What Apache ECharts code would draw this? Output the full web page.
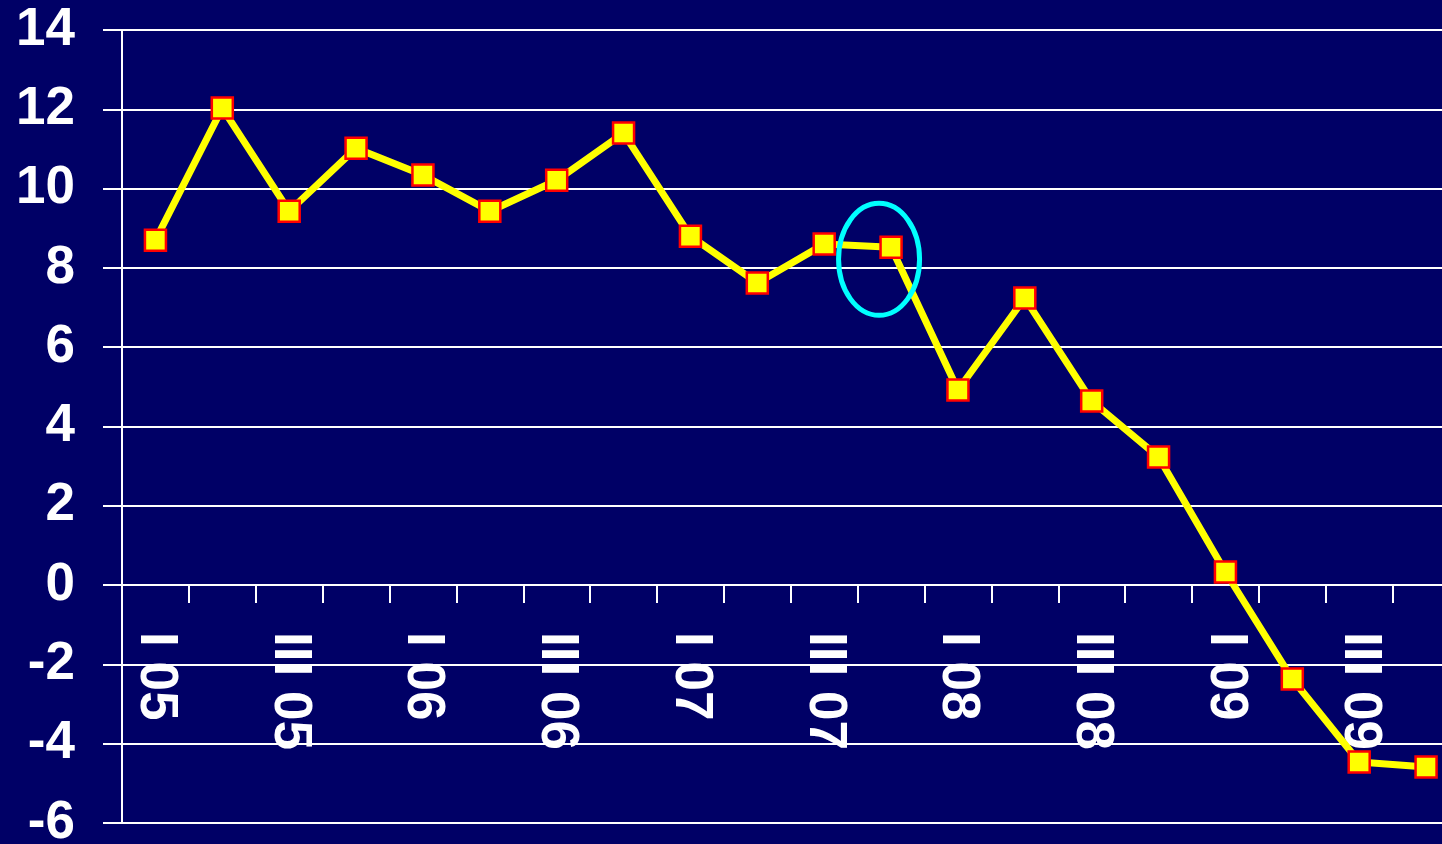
<!DOCTYPE html>
<html>
<head>
<meta charset="utf-8">
<script src="https://cdn.jsdelivr.net/npm/echarts@6/dist/echarts.min.js"></script>
<style>
html,body{margin:0;padding:0;background:#000066;overflow:hidden;}
#chart{width:1442px;height:844px;}
</style>
</head>
<body>
<div id="chart"></div>
<script>
const categories = ['I 05','II 05','III 05','IV 05','I 06','II 06','III 06','IV 06','I 07','II 07','III 07','IV 07','I 08','II 08','III 08','IV 08','I 09','II 09','III 09','IV 09'];
const values = [8.70, 12.03, 9.43, 11.02, 10.34, 9.43, 10.21, 11.40, 8.80, 7.62, 8.60, 8.52, 4.92, 7.24, 4.64, 3.23, 0.33, -2.37, -4.46, -4.59];
const highlightIndex = 11;

const chart = echarts.init(document.getElementById('chart'));
const font = '"Liberation Sans", Arial, sans-serif';
chart.setOption({
  backgroundColor: '#000066',
  animation: false,
  grid: {left: 122, top: 30, bottom: 21, right: -17.5, containLabel: false, outerBoundsMode: 'none'},
  xAxis: {
    type: 'category',
    data: categories,
    boundaryGap: true,
    position: 'bottom',
    offset: 0,
    axisLine: {show: true, onZero: false, lineStyle: {color: '#ffffff', width: 2}},
    axisTick: {show: true, interval: 0, length: 18, lineStyle: {color: '#ffffff', width: 2}},
    axisLabel: {
      interval: 1, rotate: -90, margin: 47,
      color: '#ffffff', fontSize: 53, fontWeight: 'bold', fontFamily: font
    },
    splitLine: {show: false}
  },
  yAxis: {
    type: 'value',
    min: -6, max: 14, interval: 2,
    axisLine: {show: true, lineStyle: {color: '#ffffff', width: 2}},
    axisTick: {show: true, length: 19, lineStyle: {color: '#ffffff', width: 2}},
    axisLabel: {margin: 47, color: '#ffffff', fontSize: 53, fontWeight: 'bold', fontFamily: font},
    splitLine: {show: true, lineStyle: {color: '#ffffff', width: 2}}
  },
  series: [{
    type: 'line',
    data: values,
    lineStyle: {color: '#ffff00', width: 7},
    symbol: 'rect',
    symbolSize: 21,
    itemStyle: {color: '#ffff00', borderColor: '#ff0000', borderWidth: 2.5},
    z: 5
  }]
});

// place the category axis on the zero line of the value axis
const zeroPx = chart.convertToPixel({yAxisIndex: 0}, 0);
const minPx = chart.convertToPixel({yAxisIndex: 0}, -6);
const p = chart.convertToPixel({gridIndex: 0}, [highlightIndex, values[highlightIndex]]);
chart.setOption({
  xAxis: {offset: zeroPx - minPx},
  graphic: [{
    type: 'ellipse',
    shape: {cx: p[0] - 12, cy: p[1] + 12, rx: 40.5, ry: 56},
    style: {fill: 'none', stroke: '#00ffff', lineWidth: 5},
    z: 10
  }]
});
</script>
</body>
</html>
